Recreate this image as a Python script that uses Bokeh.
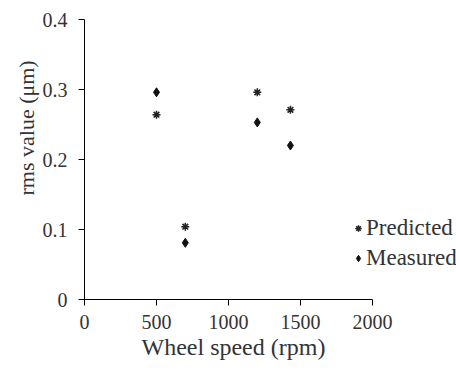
from bokeh.plotting import figure
from bokeh.models import Range1d, FixedTicker, Legend, LegendItem, Title
from bokeh.embed import file_html
from bokeh.resources import INLINE

speed = [500, 700, 1200, 1430]
predicted = [0.264, 0.104, 0.296, 0.271]
measured = [0.296, 0.081, 0.253, 0.220]
x_ticks = [0, 500, 1000, 1500, 2000]
y_ticks = [0, 0.1, 0.2, 0.3, 0.4]
x_label = "Wheel speed (rpm)"
y_label = "rms value (μm)"

FONT = "'Liberation Serif', 'Times New Roman', serif"
W, H = 456, 377
LEFT, RIGHT_AXIS_PX, TOP, BOTTOM = 84, 372, 19, 78
# extend the frame to the right edge so the legend is not clipped; axis stops at 2000
x_end = 2000 * (W - LEFT) / (RIGHT_AXIS_PX - LEFT)

p = figure(width=W, height=H, output_backend="svg", toolbar_location=None,
           x_range=Range1d(0, x_end), y_range=Range1d(0, 0.4),
           min_border_left=LEFT, min_border_right=0, min_border_top=TOP, min_border_bottom=BOTTOM)
p.outline_line_color = None
p.xgrid.visible = False
p.ygrid.visible = False
p.background_fill_color = "white"
p.border_fill_color = "white"

rp = p.scatter(speed, predicted, marker="asterisk", size=8, line_color="#222222", line_width=1.5)
rm = p.scatter(speed, measured, marker="diamond", size=9, fill_color="#111111", line_color="#111111")

for ax in (p.xaxis[0], p.yaxis[0]):
    ax.axis_line_color = "black"
    ax.major_tick_line_color = "black"
    ax.minor_tick_line_color = None
    ax.major_tick_in = 0
    ax.major_tick_out = 6
    ax.major_label_text_font = FONT
    ax.major_label_text_font_size = "20px"
    ax.major_label_text_color = "#333333"

p.xaxis.bounds = (0, 2000)
p.xaxis.ticker = FixedTicker(ticks=x_ticks)
p.yaxis.ticker = FixedTicker(ticks=y_ticks)
p.yaxis.major_label_overrides = {0: "0", 0.1: "0.1", 0.2: "0.2", 0.3: "0.3", 0.4: "0.4"}
p.xaxis.major_label_standoff = 9
p.yaxis.major_label_standoff = 11

xt = Title(text=x_label, align="left", offset=57, standoff=0,
           text_font=FONT, text_font_size="24px", text_font_style="normal", text_color="#333333")
yt = Title(text=y_label, align="left", offset=104, standoff=2,
           text_font=FONT, text_font_size="22px", text_font_style="normal", text_color="#333333")
p.add_layout(xt, "below")
p.add_layout(yt, "left")

legend = Legend(items=[LegendItem(label="Predicted", renderers=[rp]),
                       LegendItem(label="Measured", renderers=[rm])],
                location=(266, 28), border_line_color=None, background_fill_alpha=0,
                label_text_font=FONT, label_text_font_size="23px", label_text_color="#333333",
                glyph_width=16, glyph_height=20, label_standoff=0, spacing=4,
                padding=0, margin=0)
p.add_layout(legend, "center")

open("out.html", "w").write(file_html(p, INLINE))
